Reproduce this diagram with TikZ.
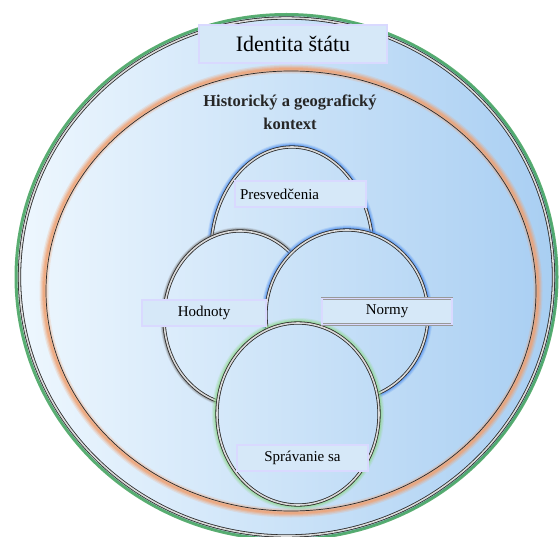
\documentclass[tikz,border=0pt]{standalone}
\usepackage{fontspec}
\setmainfont{Liberation Serif}
\usetikzlibrary{shapes.geometric}
\definecolor{bgL}{HTML}{EEF7FE}
\definecolor{bgR}{HTML}{A8CEF2}
\definecolor{boxfill}{HTML}{D6E8F8}
\definecolor{ringline}{HTML}{2A2A2A}
\definecolor{glgreen}{HTML}{3FA15A}
\definecolor{glorange}{HTML}{F0A070}
\definecolor{glblue}{HTML}{4A8CF0}
\definecolor{gllgreen}{HTML}{8ED88A}
\newcommand{\myglow}[5]{%
  \foreach \w/\o in {9/0.2,6.5/0.3,4/0.4,2/0.55}{%
    \draw[draw=#1, line width=\w*#5 pt, draw opacity=\o] #2 ellipse [x radius=#3, y radius=#4];}}
\tikzset{
  ring/.style={draw=ringline, line width=0.8pt, double=white!70!gray, double distance=1.6pt},
  labelbox/.style={draw=gray!80, fill=boxfill, line width=0.6pt, double=white!85!blue, double distance=1.6pt, minimum height=26pt, inner sep=2pt, font=\fontsize{15}{17}\selectfont},
  title/.style={font=\fontsize{16.5}{23}\selectfont\bfseries, align=center, text=black!85}
}
\begin{document}
\begin{tikzpicture}[x=1pt,y=-1pt]
\useasboundingbox (0,0) rectangle (559,537);
% outer circle
\shade[left color=bgL, right color=bgR] (286.5,277) ellipse [x radius=271, y radius=263];
\draw[draw=glgreen, line width=3pt, draw opacity=0.85] (286.5,277) ellipse [x radius=270.5, y radius=262.5];
\draw[ring] (286.5,277) ellipse [x radius=267, y radius=259];
% orange ring
\myglow{glorange}{(291,291)}{247}{222}{1.0}
\draw[draw=ringline, line width=0.7pt] (291,291) ellipse [x radius=245, y radius=220];
% Presvedcenia
\myglow{glblue}{(292,252)}{82}{106}{0.8}
\shade[left color=bgR!33!bgL, right color=bgR!66!bgL] (292,252) ellipse [x radius=82, y radius=106];
\draw[ring] (292,252) ellipse [x radius=81, y radius=105];
% Hodnoty
\myglow{gray}{(240,318)}{77}{88}{0.6}
\shade[left color=bgR!25!bgL, right color=bgR!55!bgL] (240,318) ellipse [x radius=77, y radius=88];
\draw[ring] (240,318) ellipse [x radius=76, y radius=87];
% Normy
\myglow{glblue}{(347,315)}{82}{86}{0.8}
\shade[left color=bgR!45!bgL, right color=bgR!76!bgL] (347,315) ellipse [x radius=82, y radius=86];
\draw[ring] (347,315) ellipse [x radius=81, y radius=85];
% Spravanie sa
\myglow{gllgreen}{(298,414)}{82}{92}{0.9}
\shade[left color=bgR!35!bgL, right color=bgR!67!bgL] (298,414) ellipse [x radius=82, y radius=92];
\draw[ring] (298,414) ellipse [x radius=81, y radius=91];
% labels
\node[labelbox, minimum width=188pt, minimum height=38pt, font=\fontsize{22}{24}\selectfont] (ident) at (293,44) {Identita štátu};
\node[title] (kontext) at (290,112) {Historický a geografický\\kontext};
\node[labelbox, minimum width=131pt, text width=121pt, align=left] (presv) at (300.5,194) {Presvedčenia};
\node[labelbox, minimum width=124pt] (hodn) at (204,313) {Hodnoty};
\node[labelbox, minimum width=130pt] (norm) at (387,311.5) {Normy};
\node[labelbox, minimum width=131pt] (sprav) at (302.5,458) {Správanie sa};
\end{tikzpicture}
\end{document}
